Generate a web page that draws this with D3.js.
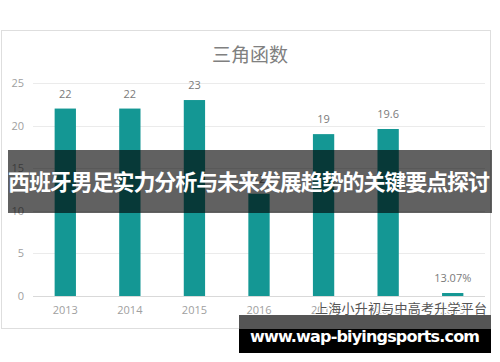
<!DOCTYPE html>
<html>
<head>
  <meta charset="utf-8">
  <title>三角函数</title>
  <style>
    html, body { margin: 0; padding: 0; background: #fff; }
    svg { display: block; }
    text { font-family: "Noto Sans CJK SC", "Noto Sans", sans-serif; }
  </style>
</head>
<body>
<svg width="500" height="362"></svg>
<script src="https://d3js.org/d3.v7.min.js"></script>
<script>
  // chart data
  var years = ['2013', '2014', '2015', '2016', '2017', '2018', '2019']
  var values = [22, 22, 23, 12, 19, 19.6, 0.35]
  var valueLabels = ['22', '22', '23', '12', '19', '19.6', '13.07%']
  var yTicks = [0, 5, 10, 15, 20, 25]

  var chartTitle = '三角函数'
  var headline = '西班牙男足实力分析与未来发展趋势的关键要点探讨'
  var watermark = '上海小升初与中高考升学平台'
  var siteUrl = 'www.wap-biyingsports.com'

  var svg = d3.select('svg')

  // frame of the screenshot
  svg.append('rect')
    .attr('x', 1.5).attr('y', 30.5)
    .attr('width', 489).attr('height', 298)
    .attr('fill', '#fff')
    .attr('stroke', '#dedede')

  svg.append('text')
    .attr('x', 250).attr('y', 62)
    .attr('text-anchor', 'middle')
    .attr('font-size', 19)
    .attr('fill', '#808080')
    .text(chartTitle)

  var x = d3.scaleBand()
    .domain(years)
    .range([33, 485])

  var y = d3.scaleLinear()
    .domain([0, 25])
    .range([296, 83])

  // grid
  svg.append('g')
    .selectAll('line')
    .data(yTicks)
    .join('line')
    .attr('x1', 33).attr('x2', 485)
    .attr('y1', function (d) { return Math.round(y(d)) + 0.5 })
    .attr('y2', function (d) { return Math.round(y(d)) + 0.5 })
    .attr('stroke', function (d) { return d === 0 ? '#d9d9d9' : '#ebebeb' })

  var yAxis = svg.append('g')
    .attr('transform', 'translate(30,0)')
    .call(d3.axisLeft(y).tickValues(yTicks).tickSize(0).tickPadding(6))
  yAxis.select('.domain').remove()
  yAxis.selectAll('text')
    .attr('font-size', 11)
    .attr('fill', '#a0a0a0')
    .style('font-family', '"Open Sans", sans-serif')

  var xAxis = svg.append('g')
    .attr('transform', 'translate(0,296)')
    .call(d3.axisBottom(x).tickSize(0).tickPadding(10))
  xAxis.select('.domain').remove()
  xAxis.selectAll('text')
    .attr('font-size', 11)
    .attr('fill', '#a0a0a0')
    .style('font-family', '"Open Sans", sans-serif')

  var bw = x.bandwidth() * 0.33

  svg.append('g')
    .selectAll('rect')
    .data(values)
    .join('rect')
    .attr('x', function (d, i) { return x(years[i]) + (x.bandwidth() - bw) / 2 })
    .attr('y', function (d) { return y(d) })
    .attr('width', bw)
    .attr('height', function (d) { return y(0) - y(d) })
    .attr('fill', '#149794')

  svg.append('g')
    .selectAll('text')
    .data(values)
    .join('text')
    .attr('x', function (d, i) { return x(years[i]) + x.bandwidth() / 2 })
    .attr('y', function (d) { return y(d) - 11 })
    .attr('text-anchor', 'middle')
    .attr('font-size', 11)
    .attr('fill', '#7a7a7a')
    .style('font-family', '"Open Sans", sans-serif')
    .text(function (d, i) { return valueLabels[i] })

  // watermark
  svg.append('text')
    .attr('x', 487).attr('y', 313)
    .attr('text-anchor', 'end')
    .attr('font-size', 13)
    .attr('fill', '#555')
    .attr('stroke', '#fff')
    .attr('stroke-width', 2)
    .attr('paint-order', 'stroke')
    .attr('textLength', 172)
    .text(watermark)

  // headline banner
  svg.append('rect')
    .attr('x', 8).attr('y', 150)
    .attr('width', 484).attr('height', 63)
    .attr('fill', '#000')
    .attr('fill-opacity', 0.62)

  svg.append('text')
    .attr('x', 249).attr('y', 190)
    .attr('text-anchor', 'middle')
    .attr('font-size', 22)
    .attr('font-weight', 'bold')
    .attr('fill', '#fff')
    .attr('textLength', 482)
    .text(headline)

  // site banner
  svg.append('rect')
    .attr('x', 239).attr('y', 315)
    .attr('width', 252).attr('height', 14)
    .attr('fill', '#555')
  svg.append('rect')
    .attr('x', 239).attr('y', 329)
    .attr('width', 252).attr('height', 24)
    .attr('fill', '#000')

  svg.append('text')
    .attr('x', 365).attr('y', 342)
    .attr('text-anchor', 'middle')
    .attr('font-size', 16)
    .attr('font-weight', 'bold')
    .attr('fill', '#fff')
    .attr('textLength', 230)
    .style('font-family', '"DejaVu Sans", sans-serif')
    .text(siteUrl)
</script>
</body>
</html>
